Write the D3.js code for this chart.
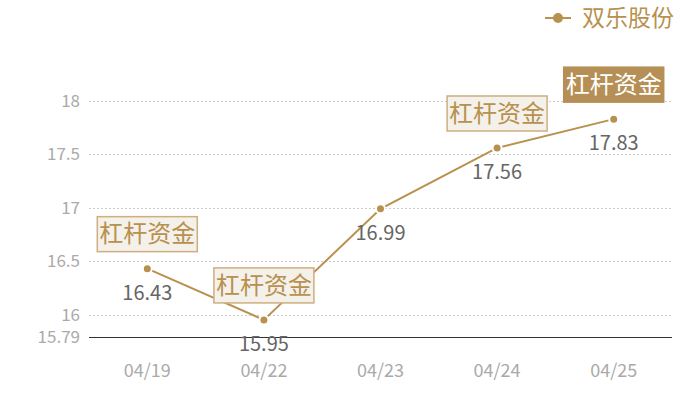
<!DOCTYPE html>
<html>
<head>
<meta charset="utf-8">
<script src="https://cdn.jsdelivr.net/npm/d3@7"></script>
<style>
  body { margin: 0; background: #fff; }
  text { font-family: "Noto Sans CJK SC", "Noto Sans", sans-serif; }
</style>
</head>
<body>
<div id="chart"></div>
<script>
const dates = ["04/19", "04/22", "04/23", "04/24", "04/25"];
const prices = [16.43, 15.95, 16.99, 17.56, 17.83];
const yTicks = [15.79, 16, 16.5, 17, 17.5, 18];
// which points carry the 杠杆资金 tag, and which one is highlighted
const tagged = ["04/19", "04/22", "04/24", "04/25"];
const highlighted = ["04/25"];

const data = dates.map((d, i) => ({ date: d, price: prices[i] }));

const width = 700, height = 400;
const gold = "#b8914f";

const svg = d3.select("#chart").append("svg")
    .attr("width", width)
    .attr("height", height);

const x = d3.scalePoint()
    .domain(dates)
    .range([89, 672])
    .padding(0.5);

const y = d3.scaleLinear()
    .domain([15.79, 18])
    .range([337, 101]);

// grid lines
svg.append("g")
    .selectAll("line")
    .data(yTicks.filter(t => t !== 15.79))
    .join("line")
    .attr("x1", 89)
    .attr("x2", 672)
    .attr("y1", d => Math.round(y(d)) + 0.5)
    .attr("y2", d => Math.round(y(d)) + 0.5)
    .attr("stroke", "#ccc")
    .attr("stroke-dasharray", "2,2");

// baseline
svg.append("line")
    .attr("x1", 89).attr("x2", 672)
    .attr("y1", Math.round(y(15.79)) + 0.5).attr("y2", Math.round(y(15.79)) + 0.5)
    .attr("stroke", "#333");

// y tick labels
svg.append("g")
    .selectAll("text")
    .data(yTicks)
    .join("text")
    .attr("x", 80)
    .attr("y", d => y(d))
    .attr("dy", "0.35em")
    .attr("text-anchor", "end")
    .attr("fill", "#aaa")
    .style("font-size", "17px")
    .text(d => d);

// x tick labels
svg.append("g")
    .selectAll("text")
    .data(dates)
    .join("text")
    .attr("x", d => x(d))
    .attr("y", 371)
    .attr("dy", "0.35em")
    .attr("text-anchor", "middle")
    .attr("fill", "#aaa")
    .style("font-size", "18px")
    .text(d => d);

// line
const line = d3.line()
    .x(d => x(d.date))
    .y(d => y(d.price));

svg.append("path")
    .datum(data)
    .attr("d", line)
    .attr("fill", "none")
    .attr("stroke", gold)
    .attr("stroke-width", 2);

// points with white halo
svg.append("g")
    .selectAll("circle")
    .data(data)
    .join("circle")
    .attr("cx", d => x(d.date))
    .attr("cy", d => y(d.price))
    .attr("r", 4.5)
    .attr("fill", gold)
    .attr("stroke", "#fff")
    .attr("stroke-width", 2);

// value labels
svg.append("g")
    .selectAll("text")
    .data(data)
    .join("text")
    .attr("x", d => x(d.date))
    .attr("y", d => y(d.price) + 24)
    .attr("dy", "0.35em")
    .attr("text-anchor", "middle")
    .attr("fill", "#666")
    .style("font-size", "20px")
    .text(d => d.price.toFixed(2));

// 杠杆资金 tags
const tags = svg.append("g")
    .selectAll("g")
    .data(data.filter(d => tagged.includes(d.date)))
    .join("g")
    .attr("transform", d => `translate(${x(d.date)},${y(d.price) - 35})`);

tags.append("rect")
    .attr("x", -50)
    .attr("y", -17)
    .attr("width", 100)
    .attr("height", 35)
    .attr("fill", d => highlighted.includes(d.date) ? "#b58f55" : "#f4f0ea")
    .attr("stroke", d => highlighted.includes(d.date) ? "#b58f55" : "#cfae80")
    .attr("stroke-width", 1.5);

tags.append("text")
    .attr("dy", "0.36em")
    .attr("text-anchor", "middle")
    .attr("fill", d => highlighted.includes(d.date) ? "#fff" : gold)
    .style("font-size", "24px")
    .text("杠杆资金");

// legend
const legend = svg.append("g").attr("transform", "translate(545,18)");
legend.append("line")
    .attr("x1", 0).attr("x2", 26)
    .attr("stroke", gold)
    .attr("stroke-width", 2);
legend.append("circle")
    .attr("cx", 13)
    .attr("r", 5)
    .attr("fill", gold);
legend.append("text")
    .attr("x", 37)
    .attr("dy", "0.36em")
    .attr("fill", gold)
    .style("font-size", "23px")
    .text("双乐股份");
</script>
</body>
</html>
